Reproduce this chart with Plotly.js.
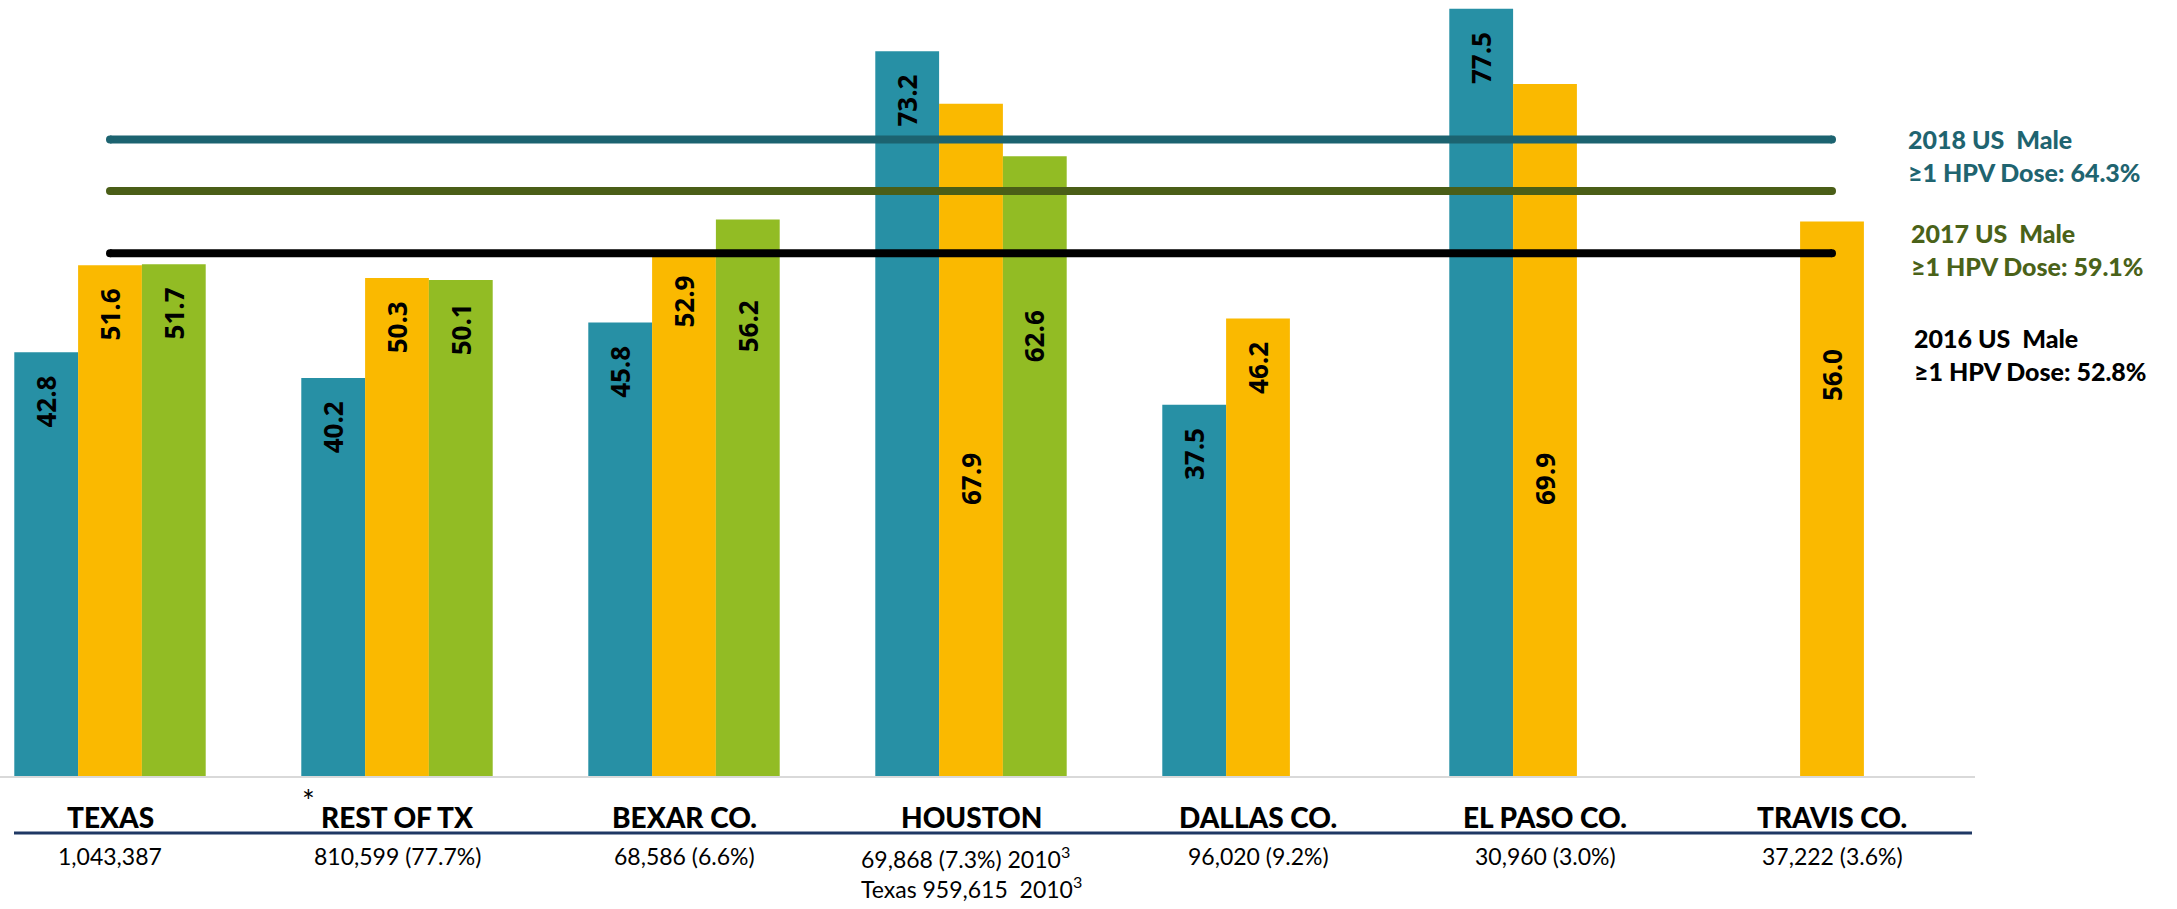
<!DOCTYPE html>
<html>
<head>
<meta charset="utf-8">
<script src="https://cdn.plot.ly/plotly-3.0.1.min.js"></script>
<style>
  html, body { margin: 0; padding: 0; background: #ffffff; }
  #chart { width: 2177px; height: 909px; }
</style>
</head>
<body>
<div id="chart"></div>
<script>
// ---- Data ----
const categories = ["TEXAS", "REST OF TX", "BEXAR CO.", "HOUSTON", "DALLAS CO.", "EL PASO CO.", "TRAVIS CO."];
const populations = ["1,043,387", "810,599 (77.7%)", "68,586 (6.6%)", "69,868 (7.3%) 2010<sup>3</sup><br>Texas 959,615  2010<sup>3</sup>", "96,020 (9.2%)", "30,960 (3.0%)", "37,222 (3.6%)"];
const seriesA = [42.8, 40.2, 45.8, 73.2, 37.5, 77.5, null];
const seriesB = [51.6, 50.3, 52.9, 67.9, 46.2, 69.9, 56.0];
const seriesC = [51.7, 50.1, 56.2, 62.6, null, null, null];
const refYears = [2018, 2017, 2016];
const refValues = [64.3, 59.1, 52.8];

// ---- Styles / layout settings ----
const barColors = ["#2790A5", "#FAB900", "#92BC24"];
const refColors = ["#1C6370", "#4A5E17", "#000000"];
const refTextColors = ["#1F6470", "#4A6219", "#000000"];
const BARGAP = 0.333;
// labels the original moved down (to keep clear of the reference lines): [series, category, label centre in axis units]
const movedLabels = [[2, 2, 45.4], [1, 3, 30.0], [2, 3, 44.4], [1, 5, 30.0], [1, 6, 40.5]];
const starredCategory = 1;

// pixel helpers (plot area: x 0..1975, y 0..776)
const PLOT_H = 776, PLOT_W = 1975;
const py = p => (PLOT_H - p) / PLOT_H;
const pxp = p => p / PLOT_W;

const xIdx = categories.map((_, i) => i);
const series = [seriesA, seriesB, seriesC];
const labelFont = { family: "Open Sans, sans-serif", size: 26, weight: 700, color: "#000000" };
const isMoved = (s, c) => movedLabels.some(m => m[0] === s && m[1] === c);

const traces = series.map((vals, s) => ({
  type: "bar", x: xIdx, y: vals,
  marker: { color: barColors[s], line: { width: 0 } },
  text: vals.map((v, c) => (v == null || isMoved(s, c)) ? null : v.toFixed(1) + "\u00a0\u00a0\u00a0"),
  textposition: "inside", insidetextanchor: "end",
  textangle: -90, constraintext: "none",
  textfont: labelFont,
  hoverinfo: "skip", showlegend: false
}));

refValues.forEach((v, i) => {
  traces.push({
    type: "scatter", mode: "lines+markers",
    x: [xIdx[0], xIdx[xIdx.length - 1]], y: [v, v],
    line: { color: refColors[i], width: 8 },
    marker: { color: refColors[i], size: 8, line: { width: 0 } },
    hoverinfo: "skip", showlegend: false
  });
});

const annotations = [];
const slotW = (1 - BARGAP) / series.length;
movedLabels.forEach(([s, c, yc]) => {
  annotations.push({
    x: xIdx[c] + (s - (series.length - 1) / 2) * slotW, xref: "x", y: yc, yref: "y",
    text: series[s][c].toFixed(1), textangle: -90, showarrow: false,
    xanchor: "center", yanchor: "middle", font: labelFont
  });
});

categories.forEach((c, i) => {
  annotations.push({
    x: xIdx[i], xref: "x", y: py(817), yref: "paper",
    text: c, showarrow: false, xanchor: "center", yanchor: "middle",
    font: { family: "Lato, sans-serif", size: 28, weight: 900, color: "#000000" }
  });
  annotations.push({
    x: xIdx[i], xref: "x", y: py(840), yref: "paper",
    text: populations[i], showarrow: false, xanchor: "center", yanchor: "top", align: "left",
    font: { family: "Lato, sans-serif", size: 23, color: "#000000" }
  });
});
// asterisk before "REST OF TX"
annotations.push({
  x: xIdx[starredCategory], xref: "x", xshift: -80, y: py(800), yref: "paper",
  text: "*", showarrow: false, xanchor: "right", yanchor: "middle",
  font: { family: "Lato, sans-serif", size: 30, color: "#000000" }
});

const refLabelPos = [[1906, 156], [1909, 250], [1912, 354]];
refYears.forEach((yr, i) => {
  annotations.push({
    x: pxp(refLabelPos[i][0]), xref: "paper", y: py(refLabelPos[i][1]), yref: "paper",
    text: yr + " US  Male<br>≥1 HPV Dose: " + refValues[i].toFixed(1) + "%",
    showarrow: false, xanchor: "left", yanchor: "middle", align: "left",
    font: { family: "Lato, sans-serif", size: 25, weight: 900, color: refTextColors[i] }
  });
});

const layout = {
  width: 2177, height: 909,
  margin: { l: 0, r: 2177 - PLOT_W, t: 0, b: 909 - PLOT_H, pad: 0 },
  paper_bgcolor: "#ffffff", plot_bgcolor: "#ffffff",
  barmode: "group", bargap: BARGAP, bargroupgap: 0,
  xaxis: {
    range: [-110 / 287, (PLOT_W - 110) / 287],
    showgrid: false, zeroline: false, showticklabels: false, ticks: "",
    showline: true, linecolor: "#D9D9D9", linewidth: 2
  },
  yaxis: {
    range: [0, PLOT_H / 9.9],
    showgrid: false, zeroline: false, showticklabels: false, ticks: "", showline: false
  },
  shapes: [{
    type: "line", xref: "paper", yref: "paper",
    x0: pxp(14), x1: pxp(1972), y0: py(833), y1: py(833),
    line: { color: "#1F3864", width: 3 }
  }],
  annotations: annotations,
  showlegend: false
};

Plotly.newPlot("chart", traces, layout, { staticPlot: true, displayModeBar: false });
</script>
</body>
</html>
